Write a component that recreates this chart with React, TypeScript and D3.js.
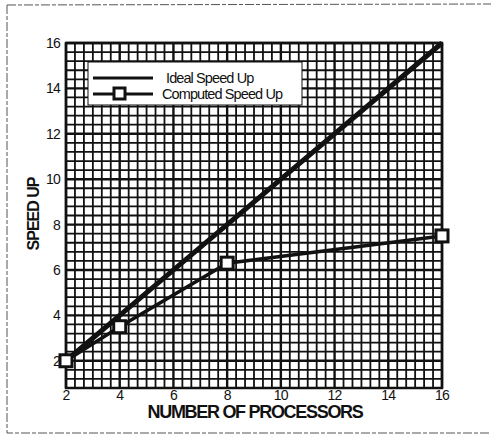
import React from "react";
import * as d3 from "d3";

const processors = [2, 4, 8, 16];
const idealSpeedUp = [2, 4, 8, 16];
const computedSpeedUp = [2, 3.5, 6.3, 7.5];
const xTicks = [2, 4, 6, 8, 10, 12, 14, 16];
const yTicks = [2, 4, 6, 8, 10, 12, 14, 16];
const seriesNames = ["Ideal Speed Up", "Computed Speed Up"];

export default function App() {
  const W = 491, H = 439;
  const x = d3.scaleLinear().domain([2, 16]).range([66, 442]);
  const y = d3.scaleLinear().domain([0.8, 16]).range([388, 43]);
  const xMinor = d3.range(0, 43).map((i) => 2 + i / 3);
  const yMinor = d3.range(0, 39).map((i) => 0.8 + i * 0.4);
  const line = d3.line<[number, number]>().x((d) => x(d[0])).y((d) => y(d[1]));
  const idealPts = processors.map((p, i) => [p, idealSpeedUp[i]] as [number, number]);
  const compPts = processors.map((p, i) => [p, computedSpeedUp[i]] as [number, number]);
  const font = "'Liberation Sans', Arial, sans-serif";
  const ink = "#111";
  return (
    <svg width={W} height={H} style={{ position: "absolute", left: 0, top: 0, background: "#fff" }}>
      <rect x={0} y={0} width={W} height={H} fill="#fff" />
      {/* outer frame */}
      <path d={`M7,5 L495,4 M7,5 L7,433 L495,433`} fill="none" stroke="#555" strokeWidth={1} strokeDasharray="9 2 4 2" />
      {/* grid */}
      <g>
        {xMinor.map((v, i) => (
          <line key={"gx" + i} x1={x(v)} x2={x(v)} y1={y(0.8)} y2={y(16)} stroke={ink}
            strokeWidth={i % 6 === 0 ? 2.4 : 1.8} />
        ))}
        {yMinor.map((v, i) => (
          <line key={"gy" + i} x1={x(2)} x2={x(16)} y1={y(v)} y2={y(v)} stroke={ink}
            strokeWidth={(i - 3) % 5 === 0 ? 2.4 : 1.8} />
        ))}
      </g>
      <rect x={x(2)} y={y(16)} width={x(16) - x(2)} height={y(0.8) - y(16)} fill="none" stroke={ink} strokeWidth={2.5} />
      {/* legend */}
      <g>
        <rect x={88} y={62} width={214} height={43} fill="#fff" stroke={ink} strokeWidth={1} />
        <line x1={93} x2={153} y1={78} y2={78} stroke={ink} strokeWidth={3} />
        <line x1={93} x2={153} y1={94} y2={94} stroke={ink} strokeWidth={3} />
        <rect x={114} y={88} width={11} height={11} fill="#fff" stroke={ink} strokeWidth={3} />
        <text x={166} y={83} fontFamily={font} fontSize={14.5} letterSpacing={-0.9} fill={ink}>{seriesNames[0]}</text>
        <text x={162} y={99} fontFamily={font} fontSize={14.5} letterSpacing={-0.9} fill={ink}>{seriesNames[1]}</text>
      </g>
      {/* series */}
      <path d={line(idealPts) || ""} fill="none" stroke={ink} strokeWidth={5} />
      <path d={line(compPts) || ""} fill="none" stroke={ink} strokeWidth={3.5} />
      {compPts.map((p, i) => (
        <rect key={"m" + i} x={x(p[0]) - 6} y={y(p[1]) - 6} width={12} height={12} fill="#fff" stroke={ink} strokeWidth={3} />
      ))}
      {/* axes labels */}
      {yTicks.map((t) => (
        <text key={"yt" + t} x={60} y={y(t) + 5} textAnchor="end" fontFamily={font} fontSize={14} letterSpacing={-0.8} fill={ink}>{t}</text>
      ))}
      {xTicks.map((t) => (
        <text key={"xt" + t} x={x(t)} y={400} textAnchor="middle" fontFamily={font} fontSize={14} letterSpacing={-0.8} fill={ink}>{t}</text>
      ))}
      <text x={255} y={418} textAnchor="middle" fontFamily={font} fontSize={18} fontWeight="bold" letterSpacing={-1.3} fill={ink}>NUMBER OF PROCESSORS</text>
      <text transform={`translate(39,214) rotate(-90)`} textAnchor="middle" fontFamily={font} fontSize={16} fontWeight="bold" letterSpacing={-1} fill={ink}>SPEED UP</text>
    </svg>
  );
}
